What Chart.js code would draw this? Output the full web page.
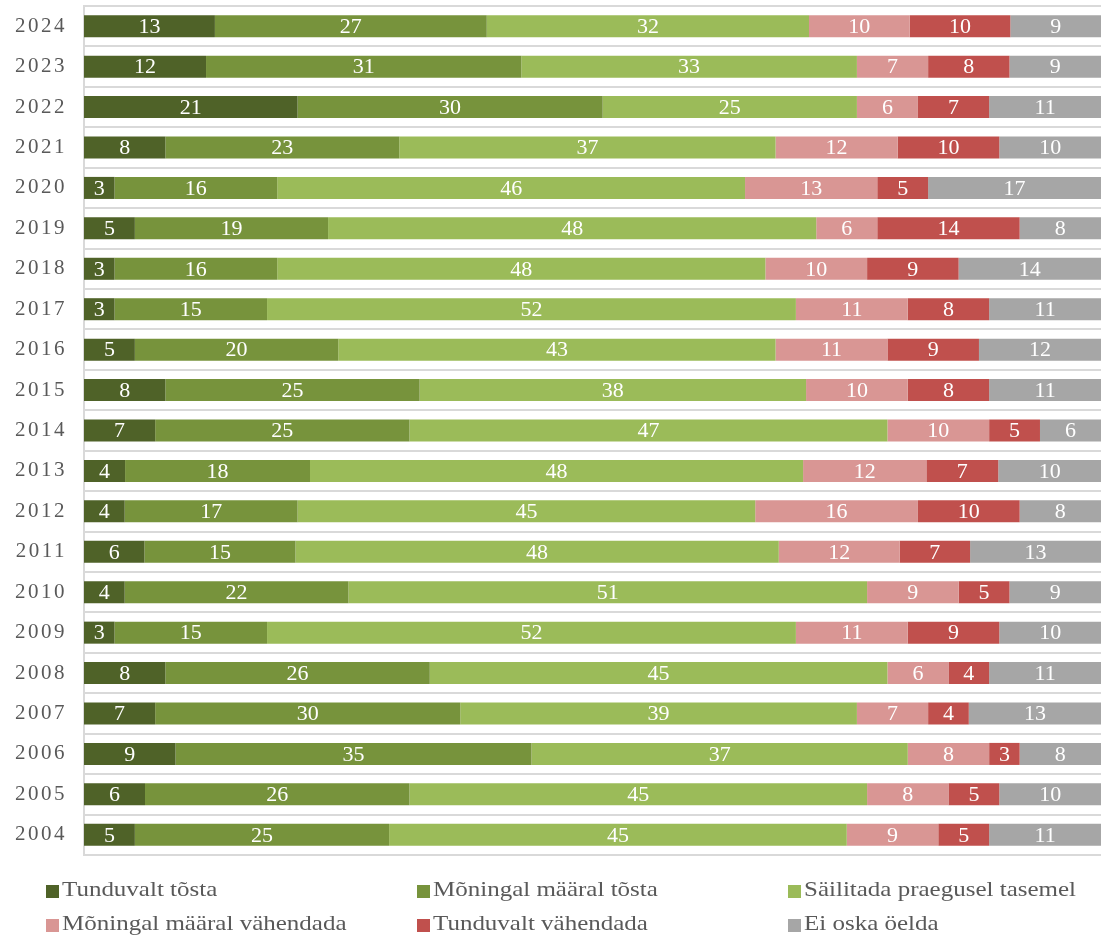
<!DOCTYPE html>
<html>
<head>
<meta charset="utf-8">
<script src="https://cdn.jsdelivr.net/npm/chart.js@4/dist/chart.umd.min.js"></script>
<style>
    html, body { margin: 0; padding: 0; background: #fff; }
    #wrap { position: relative; width: 1101px; height: 937px; overflow: hidden; }
    #chart-box { position: absolute; left: 0; top: 0; width: 1101px; height: 866px; }
    #legend {
        position: absolute; left: 0; top: 0; width: 1101px; height: 937px;
        font-family: 'Liberation Serif', 'Times New Roman', serif;
        font-size: 21px; line-height: 21px; color: #595959;
    }
    .sw { position: absolute; width: 13px; height: 13px; }
    .txt { position: absolute; white-space: nowrap; transform: scaleX(1.19); transform-origin: 0 0; }
</style>
</head>
<body>
<div id="wrap">
    <div id="chart-box"><canvas id="answers-chart"></canvas></div>
    <div id="legend"></div>
</div>
<script>
const years = ['2024', '2023', '2022', '2021', '2020', '2019', '2018', '2017', '2016', '2015', '2014',
               '2013', '2012', '2011', '2010', '2009', '2008', '2007', '2006', '2005', '2004'];

const seriesNames = ['Tunduvalt tõsta', 'Mõningal määral tõsta', 'Säilitada praegusel tasemel',
                     'Mõningal määral vähendada', 'Tunduvalt vähendada', 'Ei oska öelda'];
const seriesColors = ['#4F6228', '#77933C', '#9BBB59', '#D99694', '#C0504D', '#A6A6A6'];

// one array per answer, same order as years
const tunduvaltTosta   = [13, 12, 21, 8, 3, 5, 3, 3, 5, 8, 7, 4, 4, 6, 4, 3, 8, 7, 9, 6, 5];
const moningalTosta    = [27, 31, 30, 23, 16, 19, 16, 15, 20, 25, 25, 18, 17, 15, 22, 15, 26, 30, 35, 26, 25];
const sailitada        = [32, 33, 25, 37, 46, 48, 48, 52, 43, 38, 47, 48, 45, 48, 51, 52, 45, 39, 37, 45, 45];
const moningalVahenda  = [10, 7, 6, 12, 13, 6, 10, 11, 11, 10, 10, 12, 16, 12, 9, 11, 6, 7, 8, 8, 9];
const tunduvaltVahenda = [10, 8, 7, 10, 5, 14, 9, 8, 9, 8, 5, 7, 10, 7, 5, 9, 4, 4, 3, 5, 5];
const eiOska           = [9, 9, 11, 10, 17, 8, 14, 11, 12, 11, 6, 10, 8, 13, 9, 10, 11, 13, 8, 10, 11];

const seriesValues = [tunduvaltTosta, moningalTosta, sailitada, moningalVahenda, tunduvaltVahenda, eiOska];

// 100% stacked: each year is scaled to its own total, labels keep the raw numbers
const totals = years.map((y, i) => seriesValues.reduce((s, arr) => s + arr[i], 0));

const datasets = seriesValues.map((arr, k) => ({
    label: seriesNames[k],
    raw: arr,
    data: arr.map((v, i) => v / totals[i] * 100),
    backgroundColor: seriesColors[k],
    borderWidth: 0,
    categoryPercentage: 1,
    barPercentage: 0.545
}));

const spacingPlugin = {
    id: 'tickSpacing',
    beforeLayout(chart) { chart.ctx.letterSpacing = '2.5px'; },
    beforeDraw(chart) { chart.ctx.letterSpacing = '2.5px'; }
};

const valueLabels = {
    id: 'valueLabels',
    afterDatasetsDraw(chart) {
        const ctx = chart.ctx;
        ctx.save();
        ctx.letterSpacing = '0px';
        ctx.font = '22px "Liberation Serif", "Times New Roman", serif';
        ctx.fillStyle = '#ffffff';
        ctx.textAlign = 'center';
        ctx.textBaseline = 'middle';
        chart.data.datasets.forEach((ds, k) => {
            const meta = chart.getDatasetMeta(k);
            meta.data.forEach((bar, i) => {
                const p = bar.getProps(['x', 'y', 'base'], true);
                ctx.fillText(String(ds.raw[i]), (p.x + p.base) / 2, p.y + 1);
            });
        });
        ctx.restore();
    }
};

new Chart(document.getElementById('answers-chart'), {
    type: 'bar',
    data: { labels: years, datasets: datasets },
    options: {
        indexAxis: 'y',
        responsive: true,
        maintainAspectRatio: false,
        animation: false,
        layout: { padding: { top: 6, right: 0, bottom: 11, left: 0 } },
        scales: {
            x: {
                stacked: true,
                min: 0,
                max: 100,
                display: false
            },
            y: {
                stacked: true,
                afterFit(scale) {
                    scale.width = 84;
                    scale.paddingTop = 0;
                    scale.paddingBottom = 0;
                },
                grid: { color: '#d9d9d9', lineWidth: 2, drawTicks: false, offset: true },
                border: { color: '#d9d9d9', width: 2 },
                ticks: {
                    padding: 17,
                    color: '#595959',
                    font: { family: '"Liberation Serif", "Times New Roman", serif', size: 21 }
                }
            }
        },
        plugins: {
            legend: { display: false },
            tooltip: { enabled: false }
        }
    },
    plugins: [spacingPlugin, valueLabels]
});

// legend: 3 columns, 2 rows
const legendBox = document.getElementById('legend');
const colX = [46, 417, 788];
const rowY = [885, 919];
seriesNames.forEach((name, k) => {
    const x = colX[k % 3];
    const y = rowY[Math.floor(k / 3)];
    const sw = document.createElement('div');
    sw.className = 'sw';
    sw.style.left = x + 'px';
    sw.style.top = y + 'px';
    sw.style.background = seriesColors[k];
    legendBox.appendChild(sw);
    const txt = document.createElement('div');
    txt.className = 'txt';
    txt.style.left = (x + 16) + 'px';
    txt.style.top = (y - 6) + 'px';
    txt.textContent = name;
    legendBox.appendChild(txt);
});
</script>
</body>
</html>
